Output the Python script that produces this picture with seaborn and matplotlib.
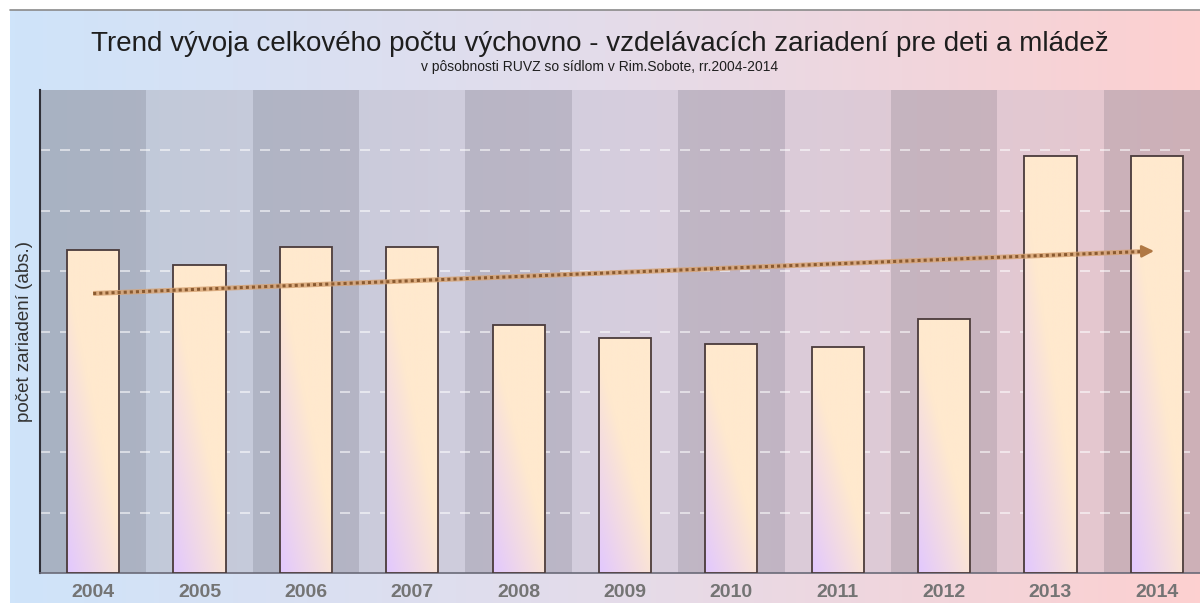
import numpy as np
import matplotlib.pyplot as plt
import seaborn as sns
from matplotlib.colors import LinearSegmentedColormap, to_rgb
from matplotlib.lines import Line2D

# -----------------------
# DATA
# -----------------------
years = ['2004', '2005', '2006', '2007', '2008', '2009',
         '2010', '2011', '2012', '2013', '2014']
counts = [107, 102, 108, 108, 82, 78, 76, 75, 84, 138, 138]

title = "Trend vývoja celkového počtu výchovno - vzdelávacích zariadení pre deti a mládež"
subtitle = "v pôsobnosti RUVZ so sídlom v Rim.Sobote, rr.2004-2014"
ylabel = "počet zariadení (abs.)"

# -----------------------
# STYLE
# -----------------------
sns.set_theme(style="white")
plt.rcParams['font.family'] = ['Liberation Sans', 'DejaVu Sans']

W, H = 1200, 603
fig = plt.figure(figsize=(W / 100, H / 100), dpi=100)
fig.patch.set_facecolor('white')

# figure background gradient (blue -> pink)
bg = fig.add_axes([10 / W, 0, 1 - 10 / W, 593 / H])
bg_cmap = LinearSegmentedColormap.from_list('bg', ['#cfe4fa', '#e4dcea', '#fdd0d0'])
bg.imshow(np.linspace(0, 1, 256)[None, :], aspect='auto', cmap=bg_cmap,
          extent=[0, 1, 0, 1])
bg.axis('off')
fig.add_artist(Line2D([10 / W, 1], [593 / H, 593 / H], color='#8a8a8a', lw=1.2))

# plot area
ax = fig.add_axes([40 / W, 30 / H, 1170 / W, 483 / H])
plot_cmap = LinearSegmentedColormap.from_list('pa', ['#bdc8d8', '#d6cede', '#e8c6cc'])
ax.imshow(np.linspace(0, 1, 256)[None, :], aspect='auto', cmap=plot_cmap,
          extent=[-0.5, len(years) - 0.5, 0, 160], zorder=0)

sns.barplot(x=years, y=counts, ax=ax, width=0.49, color='#ffe8cc',
            edgecolor='#4a3b3b', linewidth=1.3, zorder=4)

# gradient fill inside bars
lav = np.array(to_rgb('#e2c8ff'))
cream = np.array(to_rgb('#ffe9ce'))
xx, yy = np.meshgrid(np.linspace(0, 1, 64), np.linspace(0, 1, 64))
w = np.clip(0.85 * xx + 1.1 * yy, 0, 1)[..., None]
grad = lav * (1 - w) + cream * w
for patch in ax.containers[0].patches:
    x0, y0 = patch.get_x(), patch.get_y()
    bw, bh = patch.get_width(), patch.get_height()
    im = ax.imshow(grad, extent=[x0, x0 + bw, y0, y0 + bh], origin='lower',
                   aspect='auto', zorder=3)
    im.set_clip_path(patch)
    patch.set_facecolor('none')
    patch.set_zorder(4)

# alternating darker bands
for i in range(len(years)):
    if i % 2 == 0:
        ax.axvspan(i - 0.5, i + 0.5, color='#202030', alpha=0.13, lw=0, zorder=0.5)

# linear trend arrow
xi = np.arange(len(counts))
coef = np.polyfit(xi, counts, 1)
xs = np.array([0, len(counts) - 1.1])
ys = np.polyval(coef, xs)
ax.plot(xs, ys, color='#d8a474', lw=3.6, alpha=0.85, zorder=5, solid_capstyle='butt')
ax.plot(xs, ys, color='#8a5a30', lw=2.2, dashes=(1.0, 1.0), zorder=6)
tip = len(counts) - 1
ax.annotate('', xy=(tip, np.polyval(coef, tip)), xytext=(xs[1] - 0.05, ys[1]),
            arrowprops=dict(arrowstyle='-|>,head_width=0.3,head_length=0.6',
                            color='#b07844', lw=1.8), zorder=6)

ax.set_xlim(-0.5, len(years) - 0.5)
ax.set_ylim(0, 160)
ax.set_yticks(range(20, 160, 20))
ax.yaxis.grid(True, color='white', linestyle=(0, (6, 6)), lw=1.2, alpha=0.65, zorder=1)
ax.xaxis.grid(False)
ax.tick_params(axis='y', left=False, labelleft=False)
ax.tick_params(axis='x', length=0, labelsize=14, labelcolor='#747474', pad=8)
for lab in ax.get_xticklabels():
    lab.set_fontweight('bold')
ax.set_xlabel('')
ax.set_ylabel(ylabel, fontsize=13.5, color='#333333', labelpad=5)

for side in ('top', 'right'):
    ax.spines[side].set_visible(False)
ax.spines['left'].set_color('#303038')
ax.spines['left'].set_linewidth(1.5)
ax.spines['bottom'].set_color('#6a6a78')
ax.spines['bottom'].set_linewidth(1.2)

fig.text(0.5, 1 - 44 / H, title, ha='center', va='center', fontsize=20, color='#1e1e1e')
fig.text(0.5, 1 - 67 / H, subtitle, ha='center', va='center', fontsize=10, color='#1e1e1e')

fig.savefig('out.png', dpi=100)
